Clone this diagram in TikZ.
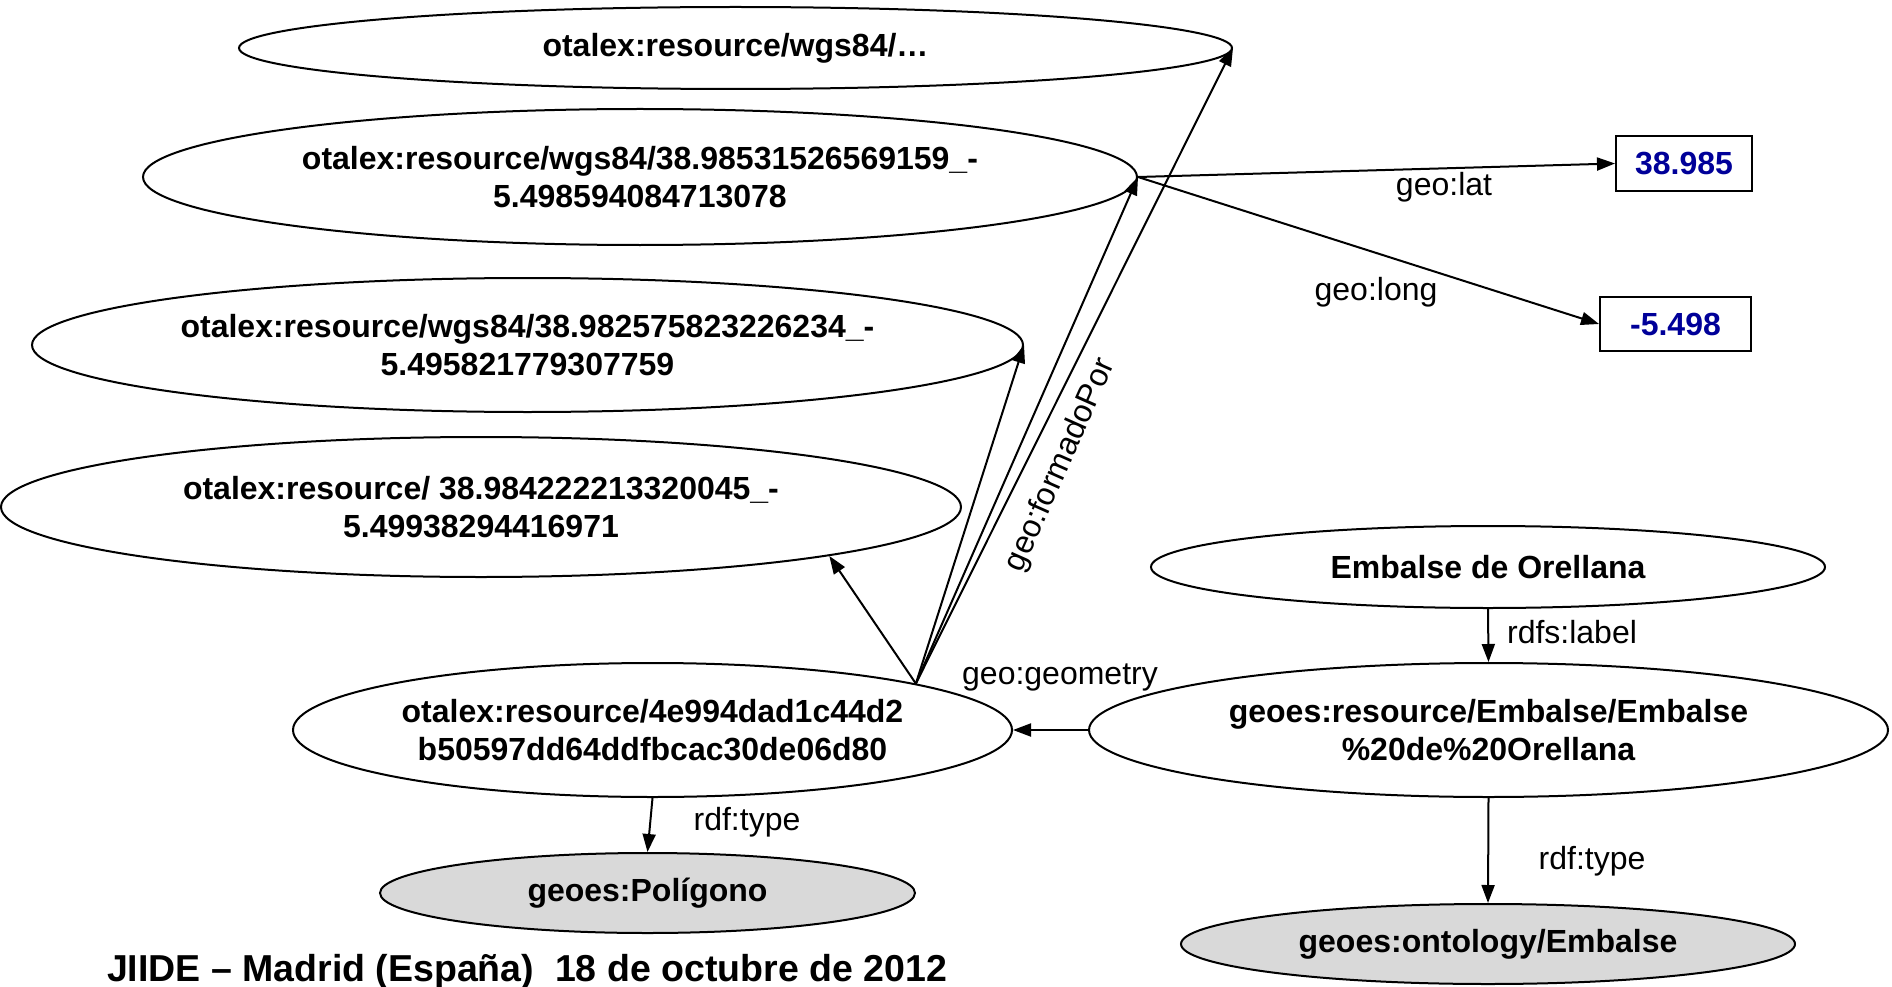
\documentclass[tikz,border=0pt]{standalone}
\usepackage{fontspec}
\setmainfont{Liberation Sans}
\usetikzlibrary{shapes.geometric,arrows.meta}
\definecolor{nodegray}{rgb}{0.85,0.85,0.85}
\definecolor{litblue}{rgb}{0.0,0.0,0.6}
\begin{document}
\begin{tikzpicture}[x=1pt,y=-1pt,
  res/.style={ellipse,draw,line width=2pt,inner sep=0pt,align=center,
    font=\fontsize{32}{38}\selectfont\bfseries},
  cls/.style={res,fill=nodegray},
  lit/.style={rectangle,draw,line width=2pt,inner sep=0pt,
    font=\fontsize{32}{38}\selectfont\bfseries,text=litblue},
  prop/.style={font=\fontsize{32}{38}\selectfont,inner sep=0pt},
  rel/.style={line width=2pt,-{Triangle[length=18pt,width=13pt]}}]
\useasboundingbox (0,0) rectangle (1892,987);

% resource nodes
\node[res,minimum width=993pt,minimum height=82pt]  (e1) at (735.5,48) {otalex:resource/wgs84/…};
\node[res,minimum width=994pt,minimum height=136pt] (e2) at (640,177) {otalex:resource/wgs84/38.98531526569159\_-\\5.498594084713078};
\node[res,minimum width=991pt,minimum height=134pt] (e3) at (527.5,345) {otalex:resource/wgs84/38.982575823226234\_-\\5.495821779307759};
\node[res,minimum width=960pt,minimum height=140pt] (e4) at (481,507) {otalex:resource/ 38.984222213320045\_-\\5.49938294416971};
\node[res,minimum width=719pt,minimum height=134pt] (e5) at (652.5,730) {otalex:resource/4e994dad1c44d2\\b50597dd64ddfbcac30de06d80};
\node[cls,minimum width=535pt,minimum height=80pt]  (e6) at (647.5,893) {geoes:Polígono};
\node[res,minimum width=674pt,minimum height=82pt]  (e7) at (1488,567) {Embalse de Orellana};
\node[res,minimum width=799pt,minimum height=134pt] (e8) at (1488.5,730) {geoes:resource/Embalse/Embalse\\\%20de\%20Orellana};
\node[cls,minimum width=614pt,minimum height=80pt]  (e9) at (1488,944) {geoes:ontology/Embalse};

% literal values
\node[lit,minimum width=136pt,minimum height=55pt] (b1) at (1684,163.5) {38.985};
\node[lit,minimum width=151pt,minimum height=54pt] (b2) at (1675.5,324) {-5.498};

% edges
\coordinate (src) at (e5.10.5);
\draw[rel] (src) -- (e4.-8);
\draw[rel] (src) -- (e3.east);
\draw[rel] (src) -- (e2.east);
\draw[rel] (src) -- (e1.east);
\draw[rel] (e2.east) -- (b1.west);
\draw[rel] (e2.east) -- (b2.west);
\draw[rel] (e8.west) -- (e5.east);
\draw[rel] (e7.south) -- (e8.north);
\draw[rel] (e8.south) -- (e9.north);
\draw[rel] (e5.south) -- (e6.north);

% property labels
\node[prop,rotate=66] (pform) at (1061,465) {geo:formadoPor};
\node[prop] (plat)  at (1444,187) {geo:lat};
\node[prop] (plong) at (1376,292) {geo:long};
\node[prop] (pgeom) at (1060,677) {geo:geometry};
\node[prop] (plab)  at (1572,632) {rdfs:label};
\node[prop] (ptyp1) at (1592,861) {rdf:type};
\node[prop] (ptyp2) at (747,822) {rdf:type};

% footer
\node[font=\fontsize{37.5}{40}\selectfont\bfseries,inner sep=0pt] (foot) at (527,972) {JIIDE – Madrid (España)\ \ 18 de octubre de 2012};
\end{tikzpicture}
\end{document}
